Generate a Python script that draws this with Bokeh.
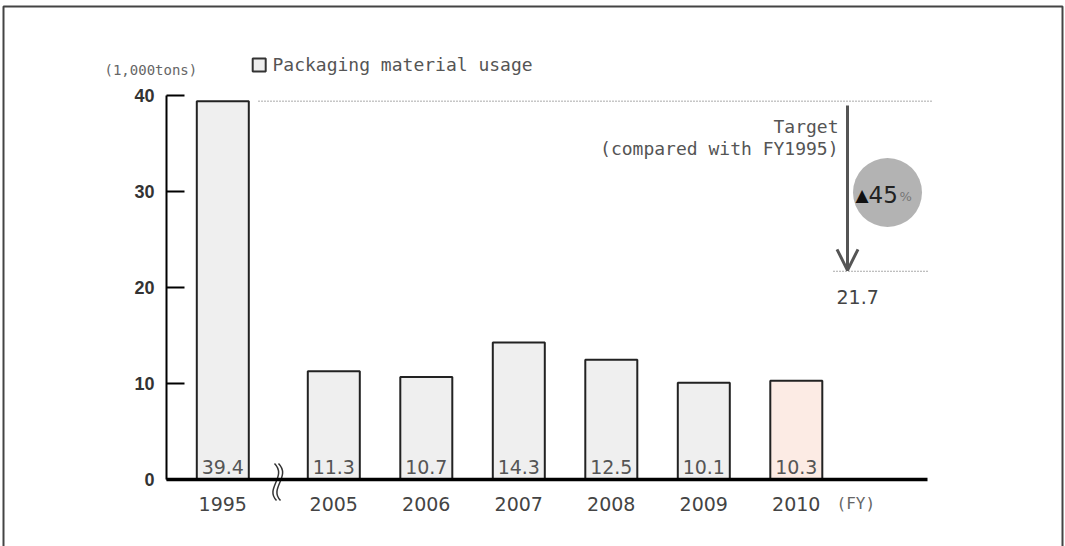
import numpy as np
from bokeh.plotting import figure
from bokeh.models import Range1d, LinearAxis, FixedTicker, Arrow, OpenHead
from bokeh.core.properties import value
from bokeh.embed import file_html
from bokeh.resources import INLINE

# ---- data ----
years = ["1995", "2005", "2006", "2007", "2008", "2009", "2010"]
usage = [39.4, 11.3, 10.7, 14.3, 12.5, 10.1, 10.3]
y_ticks = [0, 10, 20, 30, 40]
target = 21.7
reduction_pct = 45
unit_label = "(1,000tons)"
legend_label = "Packaging material usage"
fy_label = "(FY)"
target_lines = ["Target", "(compared with FY1995)"]

# ---- layout helpers (pixel <-> data) ----
W, H = 1065, 546
SLOT = 92.5          # px per year slot
X0 = 222.3           # px of first bar centre
Y0 = 479.3           # px of value 0
PPU = 9.61           # px per unit value


def u(px):
    return (px - X0) / SLOT


def v(py):
    return (Y0 - py) / PPU


gap = 1.2
pos = [0.0] + [round(gap + i, 6) for i in range(len(years) - 1)]
bar_w = 52 / SLOT
fills = ["#efefef"] * (len(years) - 1) + ["#fcebe4"]

p = figure(width=W, height=H, x_range=Range1d(u(0), u(W)), y_range=Range1d(v(H), v(0)),
           min_border=0, toolbar_location=None, output_backend="svg",
           x_axis_location=None, y_axis_location=None, outline_line_color=None,
           background_fill_color="white", border_fill_color="white")
p.grid.visible = False

# y axis
yaxis = LinearAxis(fixed_location=u(166), ticker=FixedTicker(ticks=y_ticks),
                   bounds=(y_ticks[0], y_ticks[-1]),
                   axis_line_width=2, axis_line_color="black",
                   major_tick_in=18, major_tick_out=0, major_tick_line_width=2,
                   major_tick_line_color="black", minor_tick_line_color=None,
                   major_label_standoff=12,
                   major_label_text_font="Liberation Sans",
                   major_label_text_font_style="bold",
                   major_label_text_font_size="18px",
                   major_label_text_color="#333333")
p.add_layout(yaxis, "left")

# x axis
xaxis = LinearAxis(fixed_location=0, ticker=FixedTicker(ticks=pos),
                   major_label_overrides={k: y for k, y in zip(pos, years)},
                   bounds=(u(166), u(927)),
                   axis_line_width=3.3, axis_line_color="black",
                   major_tick_line_color=None, minor_tick_line_color=None,
                   major_label_standoff=11,
                   major_label_text_font="DejaVu Sans",
                   major_label_text_font_size="19px",
                   major_label_text_color="#444444")
p.add_layout(xaxis, "below")

# bars
p.vbar(x=pos, top=usage, bottom=0, width=bar_w, fill_color=fills,
       line_color="#222222", line_width=2)

# value labels (just above the axis, inside each bar)
p.text(x=pos, y=[v(466.5)] * len(pos), text=[f"{x:.1f}" for x in usage], text_align="center",
       text_baseline="middle", text_font=value("DejaVu Sans"),
       text_font_size="19px", text_color="#555555")

# break mark between 1995 and 2005
bx = u(278)
for dx in (0, 4):
    p.bezier(x0=[bx + (-4 + dx) / SLOT], y0=[v(463)],
             x1=[bx + (-2 + dx) / SLOT], y1=[v(500)],
             cx0=[bx + (9 + dx) / SLOT], cy0=[v(476)],
             cx1=[bx + (-14 + dx) / SLOT], cy1=[v(488)],
             line_color="#333333", line_width=1.5)

# 1995 level dotted line and target dotted line
p.line(x=[u(258), u(933)], y=[usage[0], usage[0]], line_color="#555555",
       line_width=1, line_dash="1 2")
p.line(x=[u(833), u(928)], y=[target, target], line_color="#555555",
       line_width=1, line_dash="1 2")

# arrow
p.add_layout(Arrow(end=OpenHead(size=21, line_width=3, line_color="#555555"),
                   x_start=u(847), y_start=usage[0] - 0.45, x_end=u(847), y_end=target + 0.1,
                   line_color="#555555", line_width=3))

# target text
p.text(x=[u(838)] * 2, y=[v(126), v(148)], text=target_lines, text_align="right",
       text_baseline="middle", text_font=value("DejaVu Sans Mono"), text_font_size="18px",
       text_color="#555555")
p.text(x=[u(836)], y=[target - 26 / PPU], text=[f"{target}"], text_align="left",
       text_baseline="middle", text_font=value("DejaVu Sans"), text_font_size="19px",
       text_color="#444444")

# reduction circle
p.scatter(x=[u(887)], y=[v(192)], size=69, marker="circle", fill_color="#b3b3b3",
          line_color=None)
p.text(x=[u(855)], y=[v(194)], text=["\u25b2"], text_align="left", text_baseline="middle",
       text_font=value("DejaVu Sans"), text_font_size="17px", text_color="#111111")
p.text(x=[u(868)], y=[v(194)], text=[f"{reduction_pct}"], text_align="left",
       text_baseline="middle", text_font=value("DejaVu Sans"), text_font_size="23px",
       text_color="#222222")
p.text(x=[u(899)], y=[v(196)], text=["%"], text_align="left", text_baseline="middle",
       text_font=value("DejaVu Sans"), text_font_size="13px", text_color="#777777")

# legend
p.scatter(x=[u(258.7)], y=[v(64.5)], size=13, marker="square", fill_color="#eeeeee",
          line_color="#333333", line_width=2)
p.text(x=[u(272)], y=[v(64)], text=[legend_label], text_align="left", text_baseline="middle",
       text_font=value("DejaVu Sans Mono"), text_font_size="18px", text_color="#555555")

# unit label and FY label
p.text(x=[u(104)], y=[v(69)], text=[unit_label], text_align="left", text_baseline="middle",
       text_font=value("DejaVu Sans Mono"), text_font_size="14px", text_color="#666666")
p.text(x=[u(836)], y=[v(503)], text=[fy_label], text_align="left", text_baseline="middle",
       text_font=value("DejaVu Sans Mono"), text_font_size="16px", text_color="#666666")

# frame border
p.line(x=[u(3), u(3), u(1062), u(1062)], y=[v(H), v(6), v(6), v(H)],
       line_color="#444444", line_width=2)

open("out.html", "w").write(file_html(p, INLINE))
